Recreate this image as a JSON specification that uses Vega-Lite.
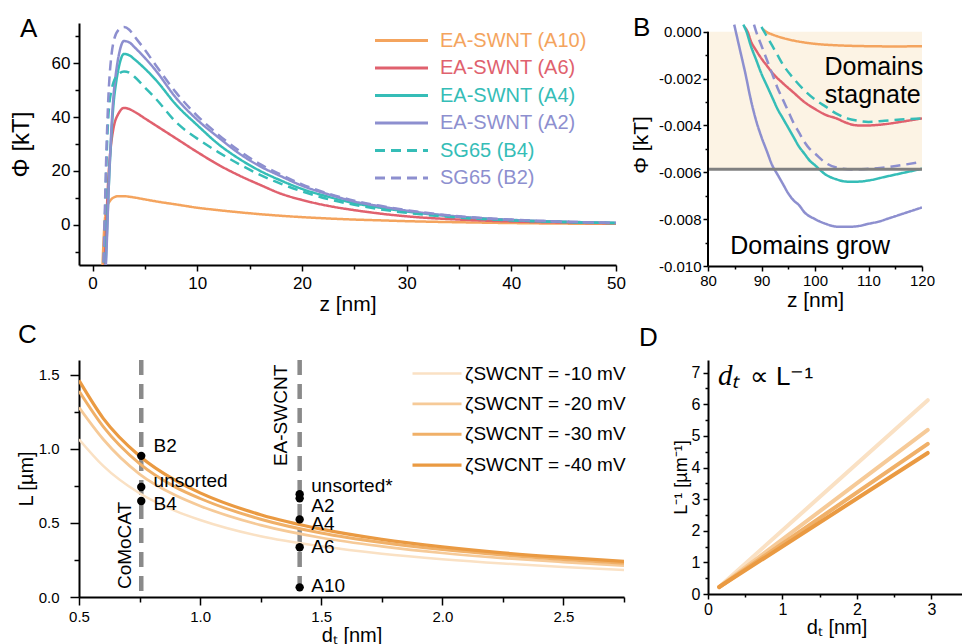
{
"$schema":"https://vega.github.io/schema/vega-lite/v6.json",
"background":"white",
"padding":{"left":9,"top":15,"right":0,"bottom":0},
"autosize":{"type":"pad"},
"config":{
"font":"Liberation Sans",
"view":{"stroke":null},
"axis":{"domainColor":"black","domainWidth":2,"tickColor":"black","tickWidth":1.5,"labelColor":"black","titleColor":"black","labelFont":"Liberation Sans","titleFont":"Liberation Sans","titleFontWeight":"normal","grid":false,"labelFlush":false,"labelOverlap":false},
"axisQuantitative":{"labelOverlap":false},
"title":{"fontWeight":"normal","font":"Liberation Sans","fontSize":26,"anchor":"start","frame":"group","offset":0,"baseline":"alphabetic","color":"black"}
},
"datasets":{
"phiA":[
{"s":"A10","z":0.9,"p":-20},{"s":"A10","z":1.0,"p":-10},{"s":"A10","z":1.1,"p":-2},{"s":"A10","z":1.2,"p":3},{"s":"A10","z":1.3,"p":5.5},{"s":"A10","z":1.4,"p":7},{"s":"A10","z":1.6,"p":8.5},{"s":"A10","z":1.8,"p":9.5},{"s":"A10","z":2.0,"p":10.1},{"s":"A10","z":2.5,"p":10.6},{"s":"A10","z":3,"p":10.6},{"s":"A10","z":3.5,"p":10.4},{"s":"A10","z":4,"p":10.1},{"s":"A10","z":5,"p":9.4},{"s":"A10","z":6,"p":8.7},{"s":"A10","z":8,"p":7.5},{"s":"A10","z":10,"p":6.3},{"s":"A10","z":12,"p":5.4},{"s":"A10","z":14,"p":4.6},{"s":"A10","z":16,"p":3.9},{"s":"A10","z":18,"p":3.3},{"s":"A10","z":20,"p":2.8},{"s":"A10","z":22.5,"p":2.3},{"s":"A10","z":25,"p":1.9},{"s":"A10","z":27.5,"p":1.6},{"s":"A10","z":30,"p":1.3},{"s":"A10","z":35,"p":0.9},{"s":"A10","z":40,"p":0.6},{"s":"A10","z":45,"p":0.4},{"s":"A10","z":50,"p":0.3},
{"s":"A6","z":1.1,"p":-20},{"s":"A6","z":1.2,"p":-10},{"s":"A6","z":1.3,"p":0},{"s":"A6","z":1.4,"p":9},{"s":"A6","z":1.5,"p":17},{"s":"A6","z":1.6,"p":23},{"s":"A6","z":1.8,"p":31},{"s":"A6","z":2.0,"p":36},{"s":"A6","z":2.5,"p":41.5},{"s":"A6","z":3,"p":43.4},{"s":"A6","z":3.5,"p":43},{"s":"A6","z":4,"p":42},{"s":"A6","z":5,"p":39.5},{"s":"A6","z":6,"p":37},{"s":"A6","z":8,"p":32},{"s":"A6","z":10,"p":27},{"s":"A6","z":12,"p":22.3},{"s":"A6","z":14,"p":18.3},{"s":"A6","z":16,"p":14.8},{"s":"A6","z":18,"p":11.5},{"s":"A6","z":20,"p":9.2},{"s":"A6","z":22.5,"p":7.0},{"s":"A6","z":25,"p":5.4},{"s":"A6","z":27.5,"p":4.1},{"s":"A6","z":30,"p":3.1},{"s":"A6","z":35,"p":1.9},{"s":"A6","z":40,"p":1.2},{"s":"A6","z":45,"p":0.8},{"s":"A6","z":50,"p":0.5},
{"s":"A4","z":1.2,"p":-20},{"s":"A4","z":1.3,"p":-10},{"s":"A4","z":1.4,"p":0},{"s":"A4","z":1.5,"p":10},{"s":"A4","z":1.6,"p":19},{"s":"A4","z":1.7,"p":27},{"s":"A4","z":1.8,"p":34},{"s":"A4","z":2.0,"p":45},{"s":"A4","z":2.25,"p":53},{"s":"A4","z":2.5,"p":58.5},{"s":"A4","z":3,"p":63.5},{"s":"A4","z":3.5,"p":63},{"s":"A4","z":4,"p":61.5},{"s":"A4","z":5,"p":58},{"s":"A4","z":6,"p":54},{"s":"A4","z":8,"p":44.5},{"s":"A4","z":10,"p":37},{"s":"A4","z":12,"p":30},{"s":"A4","z":14,"p":24.5},{"s":"A4","z":16,"p":20},{"s":"A4","z":18,"p":16.4},{"s":"A4","z":20,"p":13.3},{"s":"A4","z":22.5,"p":10.4},{"s":"A4","z":25,"p":8.0},{"s":"A4","z":27.5,"p":6.3},{"s":"A4","z":30,"p":4.9},{"s":"A4","z":35,"p":2.9},{"s":"A4","z":40,"p":1.7},{"s":"A4","z":45,"p":1.0},{"s":"A4","z":50,"p":0.6},
{"s":"A2","z":1.2,"p":-20},{"s":"A2","z":1.3,"p":-12},{"s":"A2","z":1.4,"p":-2},{"s":"A2","z":1.5,"p":10},{"s":"A2","z":1.6,"p":20},{"s":"A2","z":1.7,"p":28},{"s":"A2","z":1.8,"p":36},{"s":"A2","z":2.0,"p":48},{"s":"A2","z":2.25,"p":57},{"s":"A2","z":2.5,"p":63},{"s":"A2","z":3,"p":68.3},{"s":"A2","z":3.5,"p":67.8},{"s":"A2","z":4,"p":66},{"s":"A2","z":5,"p":62},{"s":"A2","z":6,"p":57.5},{"s":"A2","z":8,"p":47},{"s":"A2","z":10,"p":39},{"s":"A2","z":12,"p":32.5},{"s":"A2","z":14,"p":26.5},{"s":"A2","z":16,"p":21.7},{"s":"A2","z":18,"p":18},{"s":"A2","z":20,"p":14.5},{"s":"A2","z":22.5,"p":11.3},{"s":"A2","z":25,"p":8.6},{"s":"A2","z":27.5,"p":6.8},{"s":"A2","z":30,"p":5.2},{"s":"A2","z":35,"p":3.0},{"s":"A2","z":40,"p":1.8},{"s":"A2","z":45,"p":1.1},{"s":"A2","z":50,"p":0.7},
{"s":"B4","z":1.0,"p":-20},{"s":"B4","z":1.1,"p":-10},{"s":"B4","z":1.2,"p":5},{"s":"B4","z":1.3,"p":20},{"s":"B4","z":1.4,"p":32},{"s":"B4","z":1.5,"p":40},{"s":"B4","z":1.6,"p":45},{"s":"B4","z":1.8,"p":50},{"s":"B4","z":2.0,"p":53},{"s":"B4","z":2.5,"p":56},{"s":"B4","z":3,"p":57},{"s":"B4","z":3.5,"p":56.5},{"s":"B4","z":4,"p":55},{"s":"B4","z":5,"p":51},{"s":"B4","z":6,"p":47},{"s":"B4","z":8,"p":38},{"s":"B4","z":10,"p":32},{"s":"B4","z":12,"p":27},{"s":"B4","z":14,"p":22.5},{"s":"B4","z":16,"p":18.5},{"s":"B4","z":18,"p":15.2},{"s":"B4","z":20,"p":12.4},{"s":"B4","z":22.5,"p":9.5},{"s":"B4","z":25,"p":7.4},{"s":"B4","z":27.5,"p":5.7},{"s":"B4","z":30,"p":4.4},{"s":"B4","z":35,"p":2.6},{"s":"B4","z":40,"p":1.6},{"s":"B4","z":45,"p":1.0},{"s":"B4","z":50,"p":0.6},
{"s":"B2","z":1.0,"p":-20},{"s":"B2","z":1.1,"p":-5},{"s":"B2","z":1.2,"p":10},{"s":"B2","z":1.3,"p":25},{"s":"B2","z":1.4,"p":37},{"s":"B2","z":1.5,"p":47},{"s":"B2","z":1.6,"p":54},{"s":"B2","z":1.8,"p":63},{"s":"B2","z":2.0,"p":68},{"s":"B2","z":2.5,"p":72.5},{"s":"B2","z":3,"p":73.5},{"s":"B2","z":3.5,"p":72.5},{"s":"B2","z":4,"p":70},{"s":"B2","z":5,"p":65},{"s":"B2","z":6,"p":59.5},{"s":"B2","z":8,"p":49},{"s":"B2","z":10,"p":40.5},{"s":"B2","z":12,"p":33.5},{"s":"B2","z":14,"p":27.5},{"s":"B2","z":16,"p":22.5},{"s":"B2","z":18,"p":18.6},{"s":"B2","z":20,"p":15},{"s":"B2","z":22.5,"p":11.6},{"s":"B2","z":25,"p":8.9},{"s":"B2","z":27.5,"p":7.0},{"s":"B2","z":30,"p":5.4},{"s":"B2","z":35,"p":3.1},{"s":"B2","z":40,"p":1.9},{"s":"B2","z":45,"p":1.1},{"s":"B2","z":50,"p":0.7}
],
"phiB":[
{"s":"A10","z":90.3,"p":0.0001},{"s":"A10","z":91,"p":-0.00002},{"s":"A10","z":92,"p":-0.00012},{"s":"A10","z":93,"p":-0.0002},{"s":"A10","z":94,"p":-0.00027},{"s":"A10","z":96,"p":-0.00038},{"s":"A10","z":98,"p":-0.00046},{"s":"A10","z":100,"p":-0.00052},{"s":"A10","z":103,"p":-0.00057},{"s":"A10","z":106,"p":-0.0006},{"s":"A10","z":110,"p":-0.00062},{"s":"A10","z":115,"p":-0.00063},{"s":"A10","z":120,"p":-0.00062},
{"s":"A6","z":86.8,"p":0.0002},{"s":"A6","z":87.4,"p":0},{"s":"A6","z":88,"p":-0.0004},{"s":"A6","z":89,"p":-0.0008},{"s":"A6","z":90,"p":-0.00115},{"s":"A6","z":91,"p":-0.00145},{"s":"A6","z":92,"p":-0.00175},{"s":"A6","z":94,"p":-0.0022},{"s":"A6","z":96,"p":-0.0026},{"s":"A6","z":98,"p":-0.003},{"s":"A6","z":100,"p":-0.0033},{"s":"A6","z":102,"p":-0.00355},{"s":"A6","z":104,"p":-0.0037},{"s":"A6","z":106,"p":-0.0039},{"s":"A6","z":108,"p":-0.004},{"s":"A6","z":110,"p":-0.004},{"s":"A6","z":113,"p":-0.00395},{"s":"A6","z":116,"p":-0.00385},{"s":"A6","z":120,"p":-0.0037},
{"s":"A4","z":86.6,"p":0.0003},{"s":"A4","z":87.2,"p":0},{"s":"A4","z":88,"p":-0.0006},{"s":"A4","z":89,"p":-0.0012},{"s":"A4","z":90,"p":-0.0018},{"s":"A4","z":91,"p":-0.0023},{"s":"A4","z":92,"p":-0.0028},{"s":"A4","z":93,"p":-0.0033},{"s":"A4","z":94,"p":-0.0037},{"s":"A4","z":95,"p":-0.0041},{"s":"A4","z":96,"p":-0.0045},{"s":"A4","z":97,"p":-0.0049},{"s":"A4","z":98,"p":-0.0052},{"s":"A4","z":99,"p":-0.0055},{"s":"A4","z":100,"p":-0.0057},{"s":"A4","z":102,"p":-0.0061},{"s":"A4","z":104,"p":-0.0063},{"s":"A4","z":106,"p":-0.0064},{"s":"A4","z":108,"p":-0.0064},{"s":"A4","z":110,"p":-0.00635},{"s":"A4","z":113,"p":-0.0062},{"s":"A4","z":116,"p":-0.00605},{"s":"A4","z":120,"p":-0.00585},
{"s":"A2","z":84.9,"p":0.0003},{"s":"A2","z":85.2,"p":0},{"s":"A2","z":86,"p":-0.0008},{"s":"A2","z":87,"p":-0.0018},{"s":"A2","z":88,"p":-0.0029},{"s":"A2","z":89,"p":-0.0038},{"s":"A2","z":90,"p":-0.0045},{"s":"A2","z":91,"p":-0.0051},{"s":"A2","z":92,"p":-0.0057},{"s":"A2","z":93,"p":-0.0061},{"s":"A2","z":94,"p":-0.0065},{"s":"A2","z":95,"p":-0.0069},{"s":"A2","z":96,"p":-0.0072},{"s":"A2","z":97,"p":-0.0074},{"s":"A2","z":98,"p":-0.0077},{"s":"A2","z":100,"p":-0.008},{"s":"A2","z":102,"p":-0.0082},{"s":"A2","z":104,"p":-0.00832},{"s":"A2","z":106,"p":-0.00833},{"s":"A2","z":108,"p":-0.0083},{"s":"A2","z":110,"p":-0.0082},{"s":"A2","z":112,"p":-0.0081},{"s":"A2","z":114,"p":-0.00795},{"s":"A2","z":116,"p":-0.0078},{"s":"A2","z":118,"p":-0.00765},{"s":"A2","z":120,"p":-0.0075},
{"s":"B4","z":90,"p":0.0002},{"s":"B4","z":90.5,"p":0},{"s":"B4","z":91,"p":-0.0002},{"s":"B4","z":92,"p":-0.0006},{"s":"B4","z":93,"p":-0.001},{"s":"B4","z":94,"p":-0.0014},{"s":"B4","z":96,"p":-0.002},{"s":"B4","z":98,"p":-0.0025},{"s":"B4","z":100,"p":-0.0029},{"s":"B4","z":102,"p":-0.0032},{"s":"B4","z":104,"p":-0.0035},{"s":"B4","z":106,"p":-0.0037},{"s":"B4","z":108,"p":-0.0038},{"s":"B4","z":110,"p":-0.00385},{"s":"B4","z":113,"p":-0.0038},{"s":"B4","z":116,"p":-0.00375},{"s":"B4","z":120,"p":-0.0037},
{"s":"B2","z":88.6,"p":0.0003},{"s":"B2","z":89,"p":0},{"s":"B2","z":90,"p":-0.0006},{"s":"B2","z":91,"p":-0.0012},{"s":"B2","z":92,"p":-0.0018},{"s":"B2","z":93,"p":-0.0024},{"s":"B2","z":94,"p":-0.0029},{"s":"B2","z":95,"p":-0.0034},{"s":"B2","z":96,"p":-0.0039},{"s":"B2","z":97,"p":-0.0043},{"s":"B2","z":98,"p":-0.0047},{"s":"B2","z":99,"p":-0.005},{"s":"B2","z":100,"p":-0.0052},{"s":"B2","z":102,"p":-0.0056},{"s":"B2","z":104,"p":-0.0058},{"s":"B2","z":107,"p":-0.00588},{"s":"B2","z":110,"p":-0.00585},{"s":"B2","z":113,"p":-0.0058},{"s":"B2","z":116,"p":-0.0057},{"s":"B2","z":120,"p":-0.00556}
],
"lenC":[
{"k":"-10","d":0.5,"L":1.065},{"k":"-10","d":0.6,"L":0.885},{"k":"-10","d":0.75,"L":0.70},{"k":"-10","d":0.9,"L":0.58},{"k":"-10","d":1.0,"L":0.52},{"k":"-10","d":1.25,"L":0.41},{"k":"-10","d":1.5,"L":0.342},{"k":"-10","d":1.75,"L":0.292},{"k":"-10","d":2.0,"L":0.255},{"k":"-10","d":2.25,"L":0.226},{"k":"-10","d":2.5,"L":0.203},{"k":"-10","d":2.75,"L":0.183},
{"k":"-20","d":0.5,"L":1.28},{"k":"-20","d":0.6,"L":1.065},{"k":"-20","d":0.75,"L":0.83},{"k":"-20","d":0.9,"L":0.685},{"k":"-20","d":1.0,"L":0.615},{"k":"-20","d":1.25,"L":0.485},{"k":"-20","d":1.5,"L":0.40},{"k":"-20","d":1.75,"L":0.342},{"k":"-20","d":2.0,"L":0.297},{"k":"-20","d":2.25,"L":0.263},{"k":"-20","d":2.5,"L":0.236},{"k":"-20","d":2.75,"L":0.212},
{"k":"-30","d":0.5,"L":1.39},{"k":"-30","d":0.6,"L":1.15},{"k":"-30","d":0.75,"L":0.90},{"k":"-30","d":0.9,"L":0.74},{"k":"-30","d":1.0,"L":0.665},{"k":"-30","d":1.25,"L":0.525},{"k":"-30","d":1.5,"L":0.432},{"k":"-30","d":1.75,"L":0.368},{"k":"-30","d":2.0,"L":0.32},{"k":"-30","d":2.25,"L":0.283},{"k":"-30","d":2.5,"L":0.253},{"k":"-30","d":2.75,"L":0.228},
{"k":"-40","d":0.5,"L":1.462},{"k":"-40","d":0.6,"L":1.206},{"k":"-40","d":0.75,"L":0.952},{"k":"-40","d":0.9,"L":0.785},{"k":"-40","d":1.0,"L":0.703},{"k":"-40","d":1.25,"L":0.555},{"k":"-40","d":1.5,"L":0.458},{"k":"-40","d":1.75,"L":0.389},{"k":"-40","d":2.0,"L":0.338},{"k":"-40","d":2.25,"L":0.298},{"k":"-40","d":2.5,"L":0.267},{"k":"-40","d":2.75,"L":0.241}
],
"ptsC":[
{"d":0.757,"L":0.953},{"d":0.757,"L":0.743},{"d":0.757,"L":0.648},{"d":1.411,"L":0.694},{"d":1.411,"L":0.666},{"d":1.411,"L":0.524},{"d":1.411,"L":0.336},{"d":1.411,"L":0.065}
],
"lblC":[
{"d":0.808,"L":1.022,"t":"B2"},{"d":0.808,"L":0.784,"t":"unsorted"},{"d":0.808,"L":0.626,"t":"B4"},{"d":1.459,"L":0.748,"t":"unsorted*"},{"d":1.459,"L":0.614,"t":"A2"},{"d":1.459,"L":0.49,"t":"A4"},{"d":1.459,"L":0.336,"t":"A6"},{"d":1.459,"L":0.072,"t":"A10"}
],
"rotC":[
{"d":0.689,"L":0.348,"t":"CoMoCAT"},{"d":1.336,"L":1.226,"t":"EA-SWCNT"}
],
"invD":[
{"k":"-10","d":0.15,"v":0.22},{"k":"-10","d":2.95,"v":6.13},
{"k":"-20","d":0.15,"v":0.22},{"k":"-20","d":2.95,"v":5.19},
{"k":"-30","d":0.15,"v":0.22},{"k":"-30","d":2.95,"v":4.75},
{"k":"-40","d":0.15,"v":0.22},{"k":"-40","d":2.95,"v":4.46}
]
},
"bounds":"flush",
"align":"each",
"columns":2,
"spacing":{"row":94,"column":84},
"concat":[
{
"width":537,"height":242,
"title":{"text":"A","dx":-59,"dy":23},
"layer":[
{"data":{"name":"phiA"},
"mark":{"type":"line","clip":true,"strokeWidth":2.5,"interpolate":"monotone"},
"encoding":{
"x":{"field":"z","type":"quantitative","scale":{"domain":[-1.3,50],"nice":false,"zero":false},
"axis":{"title":"z [nm]","tickCount":100,"labelOverlap":false,"values":[0,5,10,15,20,25,30,35,40,45,50],"labelExpr":"datum.value % 10 == 0 ? format(datum.value, 'd') : ''","tickSize":{"condition":{"test":"datum.value % 10 != 0","value":4},"value":6},"labelFontSize":17,"labelPadding":4,"titleFontSize":21,"titlePadding":2}},
"y":{"field":"p","type":"quantitative","scale":{"domain":[-15,75],"nice":false,"zero":false},
"axis":{"title":"Φ [kT]","tickCount":100,"labelOverlap":false,"values":[-10,0,10,20,30,40,50,60,70],"labelExpr":"datum.value % 20 == 0 ? format(datum.value, 'd') : ''","tickSize":{"condition":{"test":"datum.value % 20 != 0","value":4},"value":6},"labelFontSize":17,"labelPadding":3,"titleFontSize":24,"titlePadding":18}},
"color":{"field":"s","type":"nominal","scale":{"domain":["A10","A6","A4","A2","B4","B2"],"range":["#f4a45e","#e0616e","#35bdb7","#8d8fcf","#35bdb7","#8d8fcf"]},
"legend":{"orient":"none","legendX":311,"legendY":6,"title":null,"padding":0,"symbolType":"M-2.65,0H2.65","symbolSize":400,"symbolStrokeWidth":3,"labelFontSize":20,"labelFont":"Liberation Sans","labelOffset":27,"labelLimit":400,"rowPadding":5.5,
"labelExpr":"indexof(datum.label, 'B') == 0 ? 'SG65 (' + datum.label + ')' : 'EA-SWNT (' + datum.label + ')'",
"encode":{"labels":{"update":{"fill":{"signal":"datum.value == 'A10' ? '#f4a45e' : datum.value == 'A6' ? '#e0616e' : (datum.value == 'A4' || datum.value == 'B4') ? '#35bdb7' : '#8d8fcf'"}}}}}},
"strokeDash":{"field":"s","type":"nominal","scale":{"domain":["A10","A6","A4","A2","B4","B2"],"range":[[1,0],[1,0],[1,0],[1,0],[10,6],[10,6]]},
"legend":{"orient":"none","legendX":311,"legendY":6,"title":null,"padding":0,"symbolType":"M-2.65,0H2.65","symbolSize":400,"symbolStrokeWidth":3,"labelFontSize":20,"labelFont":"Liberation Sans","labelOffset":27,"labelLimit":400,"rowPadding":5.5,
"labelExpr":"indexof(datum.label, 'B') == 0 ? 'SG65 (' + datum.label + ')' : 'EA-SWNT (' + datum.label + ')'",
"encode":{"labels":{"update":{"fill":{"signal":"datum.value == 'A10' ? '#f4a45e' : datum.value == 'A6' ? '#e0616e' : (datum.value == 'A4' || datum.value == 'B4') ? '#35bdb7' : '#8d8fcf'"}}}}}}
}}
]
},
{
"width":214,"height":243,
"title":{"text":"B","dx":-75,"dy":22},
"layer":[
{"data":{"values":[{"p":-0.00587,"p2":0}]},"mark":{"type":"rect","color":"#fcf3e4"},
"encoding":{"y":{"field":"p","type":"quantitative","scale":{"domain":[-0.01,0.00037],"nice":false,"zero":false},
"axis":{"title":"Φ [kT]","tickCount":100,"labelOverlap":false,"domain":false,"values":[-0.01,-0.009,-0.008,-0.007,-0.006,-0.005,-0.004,-0.003,-0.002,-0.001,0],"labelExpr":"abs(round(datum.value*1000)) % 2 == 0 ? replace(format(datum.value, '.3f'), '\u2212', '-') : ''","tickSize":{"condition":{"test":"abs(round(datum.value*1000)) % 2 == 1","value":3},"value":5},"labelFontSize":15,"labelPadding":2,"titleFontSize":21,"titlePadding":7}},
"y2":{"field":"p2"}}},
{"data":{"name":"phiB"},"mark":{"type":"line","clip":true,"strokeWidth":2.5,"interpolate":"monotone"},
"encoding":{
"x":{"field":"z","type":"quantitative","scale":{"domain":[80,120],"nice":false,"zero":false},
"axis":{"title":"z [nm]","tickCount":100,"labelOverlap":false,"values":[80,85,90,95,100,105,110,115,120],"labelExpr":"datum.value % 10 == 0 ? format(datum.value, 'd') : ''","tickSize":{"condition":{"test":"datum.value % 10 != 0","value":3},"value":5},"labelFontSize":15,"labelPadding":2,"titleFontSize":21,"titlePadding":1}},
"y":{"field":"p","type":"quantitative"},
"color":{"field":"s","type":"nominal","legend":null},
"strokeDash":{"field":"s","type":"nominal","legend":null}}},
{"data":{"values":[{"p":-0.00587}]},"mark":{"type":"rule","color":"#808080","strokeWidth":3},
"encoding":{"y":{"field":"p","type":"quantitative"}}},
{"data":{"values":[{"z":80,"p":-0.01,"p2":0}]},"mark":{"type":"rule","color":"black","strokeWidth":2},
"encoding":{"x":{"field":"z","type":"quantitative"},"y":{"field":"p","type":"quantitative"},"y2":{"field":"p2"}}},
{"data":{"values":[{"z":111.0,"p":-0.00185,"t":"Domains"},{"z":110.8,"p":-0.00306,"t":"stagnate"},{"z":99.1,"p":-0.00947,"t":"Domains grow"}]},
"mark":{"type":"text","fontSize":25,"font":"Liberation Sans","align":"center","baseline":"alphabetic","color":"black"},
"encoding":{"x":{"field":"z","type":"quantitative"},"y":{"field":"p","type":"quantitative"},"text":{"field":"t"}}}
]
},
{
"width":545,"height":237,
"title":{"text":"C","dx":-61,"dy":-6},
"layer":[
{"data":{"values":[{"d":0.757},{"d":1.411}]},"mark":{"type":"rule","color":"#8a8a8a","strokeWidth":4.5,"strokeDash":[15,9]},
"encoding":{"x":{"field":"d","type":"quantitative","scale":{"domain":[0.5,2.75],"nice":false,"zero":false},
"axis":{"title":"dₜ [nm]","tickCount":100,"labelOverlap":false,"values":[0.5,0.75,1,1.25,1.5,1.75,2,2.25,2.5,2.75],"labelExpr":"round(datum.value*4) % 2 == 0 ? format(datum.value, '.1f') : ''","tickSize":{"condition":{"test":"round(datum.value*4) % 2 == 1","value":5},"value":8},"labelFontSize":15,"labelPadding":4,"titleFontSize":20,"titlePadding":1}}}},
{"data":{"name":"lenC"},"mark":{"type":"line","clip":true,"interpolate":"monotone"},
"encoding":{
"x":{"field":"d","type":"quantitative"},
"y":{"field":"L","type":"quantitative","scale":{"domain":[0,1.6],"nice":false,"zero":false},
"axis":{"title":"L [µm]","tickCount":100,"labelOverlap":false,"values":[0,0.25,0.5,0.75,1,1.25,1.5],"labelExpr":"round(datum.value*4) % 2 == 0 ? format(datum.value, '.1f') : ''","tickSize":{"condition":{"test":"round(datum.value*4) % 2 == 1","value":5},"value":9},"labelFontSize":15,"labelPadding":11,"titleFontSize":20,"titlePadding":2}},
"stroke":{"field":"k","type":"nominal","scale":{"domain":["-10","-20","-30","-40"],"range":["#fae1c4","#f6ca98","#f0b068","#ea9a42"]},
"legend":{"orient":"none","legendX":346,"legendY":339,"title":null,"padding":0,"symbolType":"M-2.45,0H2.45","symbolSize":400,"labelFontSize":19,"labelFont":"Liberation Sans","labelColor":"black","labelOffset":16,"labelLimit":400,"rowPadding":8.4,"labelExpr":"'ζSWCNT = ' + datum.label + ' mV'"}},
"strokeWidth":{"field":"k","type":"nominal","scale":{"domain":["-10","-20","-30","-40"],"range":[2.5,3.2,3.8,4.5]},
"legend":{"orient":"none","legendX":346,"legendY":339,"title":null,"padding":0,"symbolType":"M-2.45,0H2.45","symbolSize":400,"labelFontSize":19,"labelFont":"Liberation Sans","labelColor":"black","labelOffset":16,"labelLimit":400,"rowPadding":8.4,"labelExpr":"'ζSWCNT = ' + datum.label + ' mV'"}}}},
{"data":{"name":"ptsC"},"mark":{"type":"circle","color":"black","opacity":1,"size":70},
"encoding":{"x":{"field":"d","type":"quantitative"},"y":{"field":"L","type":"quantitative"}}},
{"data":{"name":"lblC"},"mark":{"type":"text","fontSize":19,"font":"Liberation Sans","align":"left","baseline":"middle","color":"black"},
"encoding":{"x":{"field":"d","type":"quantitative"},"y":{"field":"L","type":"quantitative"},"text":{"field":"t"}}},
{"data":{"name":"rotC"},"mark":{"type":"text","fontSize":19,"font":"Liberation Sans","align":"center","baseline":"middle","angle":270,"color":"black"},
"encoding":{"x":{"field":"d","type":"quantitative"},"y":{"field":"L","type":"quantitative"},"text":{"field":"t"}}}
]
},
{
"width":257,"height":234,
"title":{"text":"D","dx":-69,"dy":-5},
"layer":[
{"data":{"name":"invD"},"mark":{"type":"line","strokeWidth":4,"strokeCap":"round"},
"encoding":{
"x":{"field":"d","type":"quantitative","scale":{"domain":[0,3.45],"nice":false,"zero":false},
"axis":{"title":"dₜ [nm]","tickCount":100,"labelOverlap":false,"values":[0,0.5,1,1.5,2,2.5,3],"labelExpr":"round(datum.value*2) % 2 == 0 ? format(datum.value, 'd') : ''","tickSize":{"condition":{"test":"round(datum.value*2) % 2 == 1","value":3},"value":5},"labelFontSize":16,"labelPadding":2,"titleFontSize":20,"titlePadding":0}},
"y":{"field":"v","type":"quantitative","scale":{"domain":[0,7.4],"nice":false,"zero":false},
"axis":{"title":"L⁻¹ [µm⁻¹]","tickCount":100,"labelOverlap":false,"values":[0,0.5,1,1.5,2,2.5,3,3.5,4,4.5,5,5.5,6,6.5,7],"labelExpr":"round(datum.value*2) % 2 == 0 ? format(datum.value, 'd') : ''","tickSize":{"condition":{"test":"round(datum.value*2) % 2 == 1","value":3},"value":5},"labelFontSize":16,"labelPadding":3,"titleFontSize":18,"titlePadding":1}},
"stroke":{"field":"k","type":"nominal","legend":null}}},
{"data":{"values":[{"d":0.134,"v":6.61,"t":"dₜ"}]},"mark":{"type":"text","fontSize":29,"font":"Liberation Serif","fontStyle":"italic","align":"left","baseline":"alphabetic","color":"black"},
"encoding":{"x":{"field":"d","type":"quantitative"},"y":{"field":"v","type":"quantitative"},"text":{"field":"t"}}},
{"data":{"values":[{"d":0.56,"v":6.61,"t":"∝ L⁻¹"}]},"mark":{"type":"text","fontSize":26,"font":"Liberation Sans","align":"left","baseline":"alphabetic","color":"black"},
"encoding":{"x":{"field":"d","type":"quantitative"},"y":{"field":"v","type":"quantitative"},"text":{"field":"t"}}}
]
}
]
}
